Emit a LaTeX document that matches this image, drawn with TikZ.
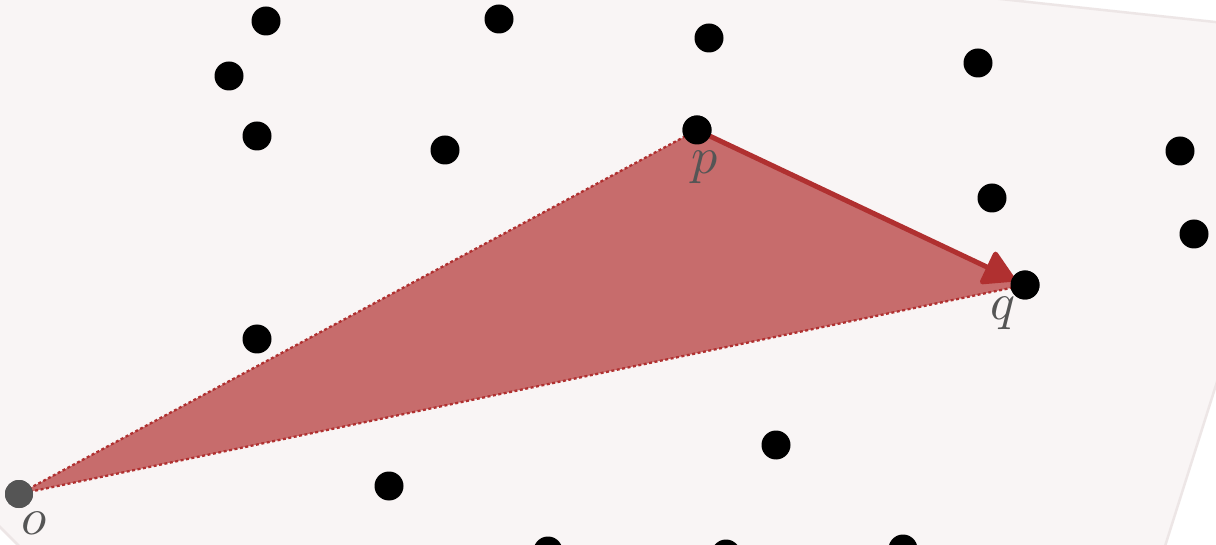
\documentclass[tikz,border=0pt]{standalone}
\usetikzlibrary{arrows.meta}
\definecolor{bgfill}{RGB}{249,245,245}
\definecolor{bgline}{RGB}{237,230,230}
\definecolor{trifill}{RGB}{199,108,108}
\definecolor{darkred}{RGB}{176,48,48}
\definecolor{lblgray}{RGB}{85,85,85}
\tikzset{
  pt/.style={circle, fill=black, inner sep=0pt, minimum size=29pt},
  origin/.style={circle, fill=lblgray, inner sep=0pt, minimum size=28pt},
  lbl/.style={text=lblgray, inner sep=0pt, scale=5.2},
  edgedot/.style={draw=darkred, line width=2.3pt, dash pattern=on 3pt off 2.5pt},
  vecarrow/.style={draw=darkred, line width=5pt, -{Triangle[round,length=34pt,width=38pt]}, shorten >=11pt}
}
\begin{document}
\begin{tikzpicture}[x=1pt,y=-1pt]
\useasboundingbox (0,0) rectangle (1216,545);
\fill[white] (0,0) rectangle (1216,545);
% background polygon
\filldraw[fill=bgfill, draw=bgline, line width=2.5pt]
  (-60,-60) -- (450,-60) -- (1327,34) -- (1148,600) -- (73,600) -- (-60,467) -- cycle;
% points
\node[origin] (o) at (19,494) {};
\node[pt] (p) at (697,130) {};
\node[pt] (q) at (1025,285) {};
% triangle
\fill[trifill] (o.center) -- (p.center) -- (q.center) -- cycle;
\draw[edgedot] (o.center) -- (p.center);
\draw[edgedot] (o.center) -- (q.center);
\node[origin] at (o) {};
\draw[vecarrow] (p.center) -- (q.center);
\node[pt] at (p) {};
\node[pt] at (q) {};
% labels
\node[lbl] (lo) at (34,523) {$o$};
\node[lbl] (lp) at (705,167) {$p$};
\node[lbl] (lq) at (1003,313) {$q$};
% other points
\node[pt] (a1) at (266,21) {};
\node[pt] (a2) at (499,19) {};
\node[pt] (a3) at (709,38) {};
\node[pt] (a4) at (978,63) {};
\node[pt] (a5) at (229,76) {};
\node[pt] (a6) at (257,136) {};
\node[pt] (a7) at (445,150) {};
\node[pt] (a8) at (1180,151) {};
\node[pt] (a9) at (992,198) {};
\node[pt] (a10) at (1194,234) {};
\node[pt] (a11) at (257,339) {};
\node[pt] (a12) at (776,445) {};
\node[pt] (a13) at (389,486) {};
\node[pt] (a14) at (548,551) {};
\node[pt] (a15) at (726,554) {};
\node[pt] (a16) at (903,549) {};
\end{tikzpicture}
\end{document}
